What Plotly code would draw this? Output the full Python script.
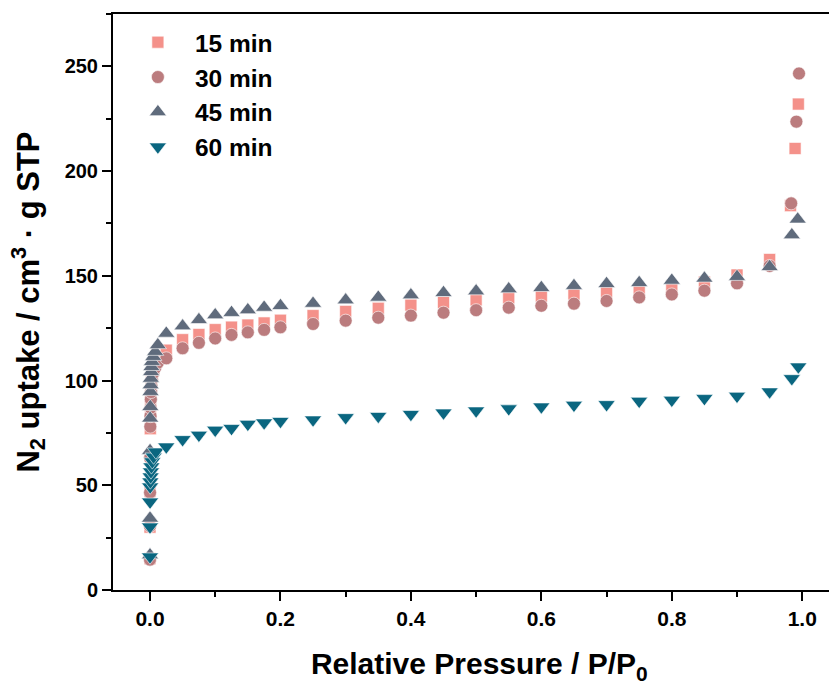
import plotly.graph_objects as go

# ---- data ----
x_15 = [0.00001, 0.00003, 0.0001, 0.0003, 0.0005, 0.0008, 0.001, 0.0013, 0.0017, 0.0022, 0.003, 0.005, 0.008, 0.012,
        0.025, 0.05, 0.075, 0.1, 0.125, 0.15, 0.175, 0.2, 0.25, 0.3, 0.35, 0.4, 0.45, 0.5, 0.55, 0.6, 0.65, 0.7,
        0.75, 0.8, 0.85, 0.9, 0.95, 0.982, 0.989, 0.994]
y_15 = [15, 30, 47, 64, 77, 83, 88, 92.5, 96, 99.5, 103, 106.5, 109.5, 112,
        114.5, 119.5, 122, 124.3, 125.5, 126.5, 127.5, 128.8, 131, 133, 134.5, 136, 137.3, 138.5, 139.5, 140.3,
        141.3, 142.5, 143.5, 145, 147, 150.4, 157.8, 183.5, 210.8, 232]

x_30 = [0.00001, 0.00003, 0.0001, 0.0003, 0.0005, 0.0008, 0.001, 0.0013, 0.0017, 0.0022, 0.003, 0.005, 0.008, 0.012,
        0.025, 0.05, 0.075, 0.1, 0.125, 0.15, 0.175, 0.2, 0.25, 0.3, 0.35, 0.4, 0.45, 0.5, 0.55, 0.6, 0.65, 0.7,
        0.75, 0.8, 0.85, 0.9, 0.95, 0.983, 0.991, 0.995]
y_30 = [14.5, 30.5, 46.5, 63, 78, 83, 87, 91, 94.5, 97.5, 100.5, 103.5, 106, 108.5,
        110.6, 115.4, 118, 120.1, 121.8, 123, 124.2, 125.4, 127, 128.6, 130, 131, 132.4, 133.6, 134.8, 135.7,
        136.7, 138, 139.7, 141.1, 142.9, 146.4, 154.7, 184.6, 223.6, 246.6]

x_45 = [0.00001, 0.00003, 0.0001, 0.0003, 0.0005, 0.0008, 0.001, 0.0013, 0.0017, 0.0022, 0.003, 0.005, 0.008, 0.012,
        0.025, 0.05, 0.075, 0.1, 0.125, 0.15, 0.175, 0.2, 0.25, 0.3, 0.35, 0.4, 0.45, 0.5, 0.55, 0.6, 0.65, 0.7,
        0.75, 0.8, 0.85, 0.9, 0.95, 0.984, 0.993]
y_45 = [16.7, 34.2, 66.5, 82, 87.5, 94.7, 97.9, 101, 104.2, 106.6, 109, 111.4, 113.8, 117,
        122.5, 126, 129, 131.3, 132.4, 133.7, 134.9, 135.7, 136.8, 138.4, 139.7, 140.8, 141.9, 142.7, 143.7, 144.3,
        145.3, 146.2, 146.7, 147.8, 148.8, 149.6, 154.3, 169.5, 177]

x_60 = [0.00001, 0.00003, 0.0001, 0.0003, 0.0006, 0.001, 0.0015, 0.0022, 0.0035, 0.0055, 0.009,
        0.025, 0.05, 0.075, 0.1, 0.125, 0.15, 0.175, 0.2, 0.25, 0.3, 0.35, 0.4, 0.45, 0.5, 0.55, 0.6, 0.65, 0.7,
        0.75, 0.8, 0.85, 0.9, 0.95, 0.984, 0.994]
y_60 = [15.9, 30.2, 42.1, 49.3, 51.7, 54.1, 56.5, 58.9, 61.3, 63.6, 66,
        68.4, 71.9, 74, 76.4, 77.2, 79.2, 79.9, 80.6, 81.3, 82.4, 83, 83.9, 84.6, 85.6, 86.6, 87.5, 88.3, 88.6,
        90.2, 90.7, 91.5, 92.6, 94.7, 101, 106.6]

x_ticks = [0, 0.2, 0.4, 0.6, 0.8, 1.0]
x_ticktext = ["0.0", "0.2", "0.4", "0.6", "0.8", "1.0"]
y_ticks = [0, 50, 100, 150, 200, 250]

series = [
    ("15 min", x_15, y_15, "square", "#F4918A", 12),
    ("30 min", x_30, y_30, "circle", "#BB7C7E", 13),
    ("45 min", x_45, y_45, "triangle-up", "#5F6B7C", 15),
    ("60 min", x_60, y_60, "triangle-down", "#0A6680", 15),
]

fig = go.Figure()
for name, xs, ys, sym, col, sz in series:
    fig.add_trace(go.Scatter(
        x=xs, y=ys, mode="markers", name=name,
        marker=dict(symbol=sym, color=col, size=sz, line=dict(color="white", width=0.6)),
    ))

fig.update_layout(
    width=830, height=685,
    margin=dict(l=113, r=1, t=14, b=95),
    plot_bgcolor="white", paper_bgcolor="white",
    font=dict(family="Liberation Sans, Arial", color="black", weight="bold"),
    showlegend=True,
    legend=dict(
        x=0.011, y=0.99, xanchor="left", yanchor="top",
        font=dict(size=24.5, family="Liberation Sans, Arial", weight="bold"),
        bgcolor="rgba(0,0,0,0)", itemwidth=64, tracegroupgap=0,
    ),
    xaxis=dict(
        range=[-0.0567, 1.041],
        showline=True, linecolor="black", linewidth=2, mirror=True,
        showgrid=False, zeroline=False,
        ticks="outside", ticklen=9, tickwidth=2, tickcolor="black",
        tickvals=x_ticks, ticktext=x_ticktext,
        tickfont=dict(size=21, family="Liberation Sans Narrow, Liberation Sans", weight="bold"),
        minor=dict(ticks="outside", ticklen=5, tickwidth=2, tickcolor="black", dtick=0.1, tick0=0, showgrid=False),
        title=dict(text="&nbsp;&nbsp;Relative Pressure / P/P<sub>0</sub>",
                   font=dict(size=30, family="Liberation Sans, Arial", weight="bold"),
                   standoff=24),
    ),
    yaxis=dict(
        range=[0, 275],
        showline=True, linecolor="black", linewidth=2, mirror=False,
        showgrid=False, zeroline=False,
        ticks="outside", ticklen=9, tickwidth=2, tickcolor="black",
        tickvals=y_ticks,
        tickfont=dict(size=20, family="Liberation Sans, Arial", weight="bold"),
        minor=dict(ticks="outside", ticklen=5, tickwidth=2, tickcolor="black", dtick=25, tick0=0, showgrid=False),
        title=dict(text="N<sub>2</sub> uptake / cm<sup>3</sup> · g STP",
                   font=dict(size=31, family="Liberation Sans, Arial", weight="bold"),
                   standoff=16),
    ),
)

fig.write_html("out.html")
